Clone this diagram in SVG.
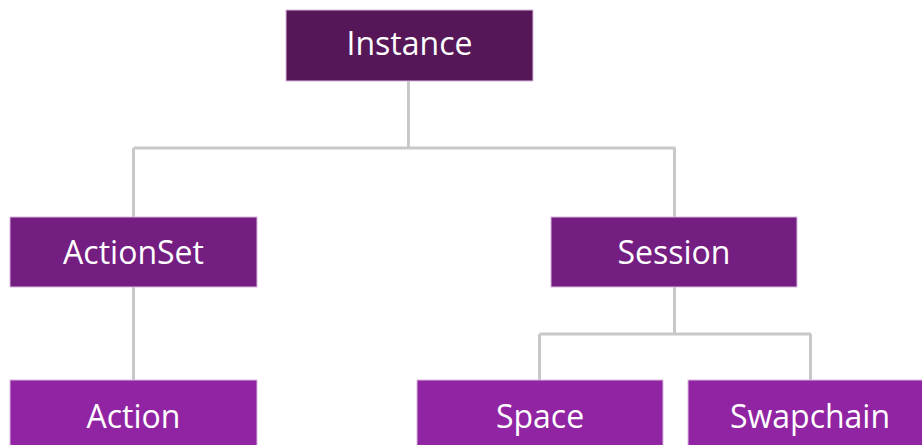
<svg xmlns="http://www.w3.org/2000/svg" width="922" height="445" viewBox="0 0 922 445">
<style>
.n rect{stroke:#d9b8de;stroke-width:1}
.l1{fill:#561758}
.l2{fill:#741e82}
.l3{fill:#9124a3}
.n text{font-family:"Open Sans","DejaVu Sans",sans-serif;font-size:32px;fill:#ffffff;text-anchor:middle}
.c{fill:none;stroke:#c8c8c8;stroke-width:3}
</style>
<rect width="922" height="445" fill="#ffffff"/>
<g id="connectors">
<path class="c" d="M408.5,81 V148 M133.5,148 H675.5 M133.5,148 V217 M674.5,148 V217"/>
<path class="c" d="M133.5,287 V380"/>
<path class="c" d="M674.5,287 V334 M539.5,334 H811 M539.5,334 V380 M810.5,334 V380"/>
</g>
<g id="instance" class="n"><rect class="l1" x="286" y="10" width="247" height="71"/><text x="409.5" y="55">Instance</text></g>
<g id="actionset" class="n"><rect class="l2" x="10" y="217" width="247" height="70"/><text x="133.5" y="264">ActionSet</text></g>
<g id="session" class="n"><rect class="l2" x="551" y="217" width="246" height="70"/><text x="674" y="264">Session</text></g>
<g id="action" class="n"><rect class="l3" x="10" y="380" width="247" height="71"/><text x="133.5" y="428">Action</text></g>
<g id="space" class="n"><rect class="l3" x="417" y="380" width="246" height="71"/><text x="540" y="428">Space</text></g>
<g id="swapchain" class="n"><rect class="l3" x="688" y="380" width="246" height="71"/><text x="810" y="428">Swapchain</text></g>
</svg>
